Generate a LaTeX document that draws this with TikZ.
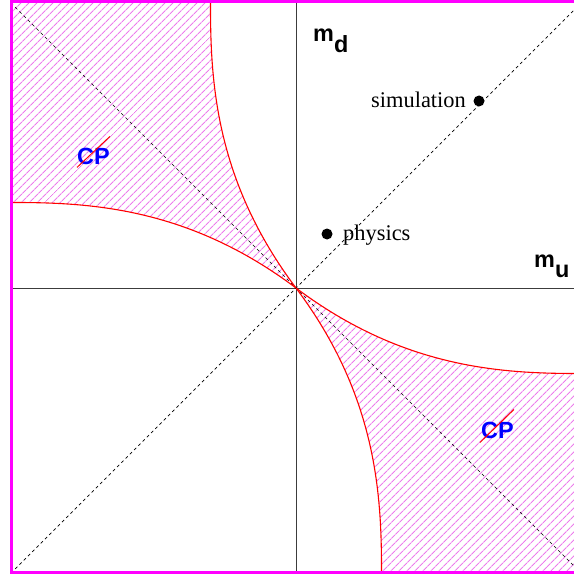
\documentclass[tikz,border=0pt]{standalone}
\usepackage{fontspec}
\setmainfont{Liberation Serif}
\newfontfamily\hsans{Liberation Sans}
\usetikzlibrary{patterns.meta}
\definecolor{hatch}{RGB}{236,125,236}
\definecolor{axisgray}{RGB}{60,60,60}
\definecolor{framemag}{RGB}{255,0,255}
\begin{document}
\begin{tikzpicture}[x=1bp,y=-1bp,
  hatchfill/.style={pattern={Lines[angle=45,distance=5.4pt,line width=1pt]},pattern color=hatch},
  bound/.style={red,line width=1.1bp},
  axisline/.style={axisgray,line width=0.9bp},
  diag/.style={black,line width=0.7bp,dash pattern=on 3bp off 3bp},
  sanslab/.style={font=\hsans\bfseries\fontsize{23.5}{23.5}\selectfont,inner sep=0pt,anchor=base west},
  seriflab/.style={font=\fontsize{22.5}{22.5}\selectfont,inner sep=0pt,anchor=base west},
  cplab/.style={font=\hsans\bfseries\fontsize{23.5}{23.5}\selectfont,text=blue,inner sep=0pt,anchor=base west},
  slash/.style={red,line width=1bp},
  dot/.style={circle,fill=black,inner sep=0pt,minimum size=11bp}]
\useasboundingbox (0,0) rectangle (574,575);
\clip (0,0) rectangle (574,575);
\coordinate (O) at (296,288);
\coordinate (TL) at (11,3);
\coordinate (TR) at (581,3);
\coordinate (BL) at (11,573);
\coordinate (BR) at (581,573);
% hatched regions
\fill[hatchfill] (TL) -- plot[variable=\t,domain=0:1,samples=80] ({296-85.5*(1-\t*\t*sqrt(\t))},{3+285*\t})
  -- plot[variable=\t,domain=1:0,samples=80] ({11+285*\t},{288-85.5*(1-\t*\t*sqrt(\t))}) -- cycle;
\fill[hatchfill] (BR) -- plot[variable=\t,domain=0:1,samples=80] ({296+85.5*(1-\t*\t*sqrt(\t))},{573-285*\t})
  -- plot[variable=\t,domain=1:0,samples=80] ({581-285*\t},{288+85.5*(1-\t*\t*sqrt(\t))}) -- cycle;
% axes
\draw[axisline] (11,288) -- (581,288);
\draw[axisline] (296,3) -- (296,573);
% diagonals
\draw[diag] (BL) -- (TR);
\draw[diag] (TL) -- (BR);
% boundary curves
\draw[bound] plot[variable=\t,domain=0:1,samples=80] ({296-85.5*(1-\t*\t*sqrt(\t))},{3+285*\t});
\draw[bound] plot[variable=\t,domain=0:1,samples=80] ({11+285*\t},{288-85.5*(1-\t*\t*sqrt(\t))});
\draw[bound] plot[variable=\t,domain=0:1,samples=80] ({296+85.5*(1-\t*\t*sqrt(\t))},{573-285*\t});
\draw[bound] plot[variable=\t,domain=0:1,samples=80] ({581-285*\t},{288+85.5*(1-\t*\t*sqrt(\t))});
% frame
\draw[framemag,line width=3bp] (590,1.5) -- (11,1.5) -- (11,572.5) -- (590,572.5);
% labels
\node[sanslab] (md) at (313,42) {m\raisebox{-11bp}{d}};
\node[sanslab] (mu) at (534,267) {m\raisebox{-10bp}{u}};
\node[dot] (sim) at (479,101) {};
\node[seriflab] (simlab) at (371,107.5) {simulation};
\node[dot] (phys) at (327,234) {};
\node[seriflab] (physlab) at (343,240.5) {physics};
\node[cplab] (cp1) at (77,165) {CP};
\draw[slash] ([shift={(0,2)}]cp1.south west) -- ([shift={(0,-12)}]cp1.north east);
\node[cplab] (cp2) at (481,438) {CP};
\draw[slash] ([shift={(-1,4)}]cp2.south west) -- ([shift={(0,-12)}]cp2.north east);
\end{tikzpicture}
\end{document}
